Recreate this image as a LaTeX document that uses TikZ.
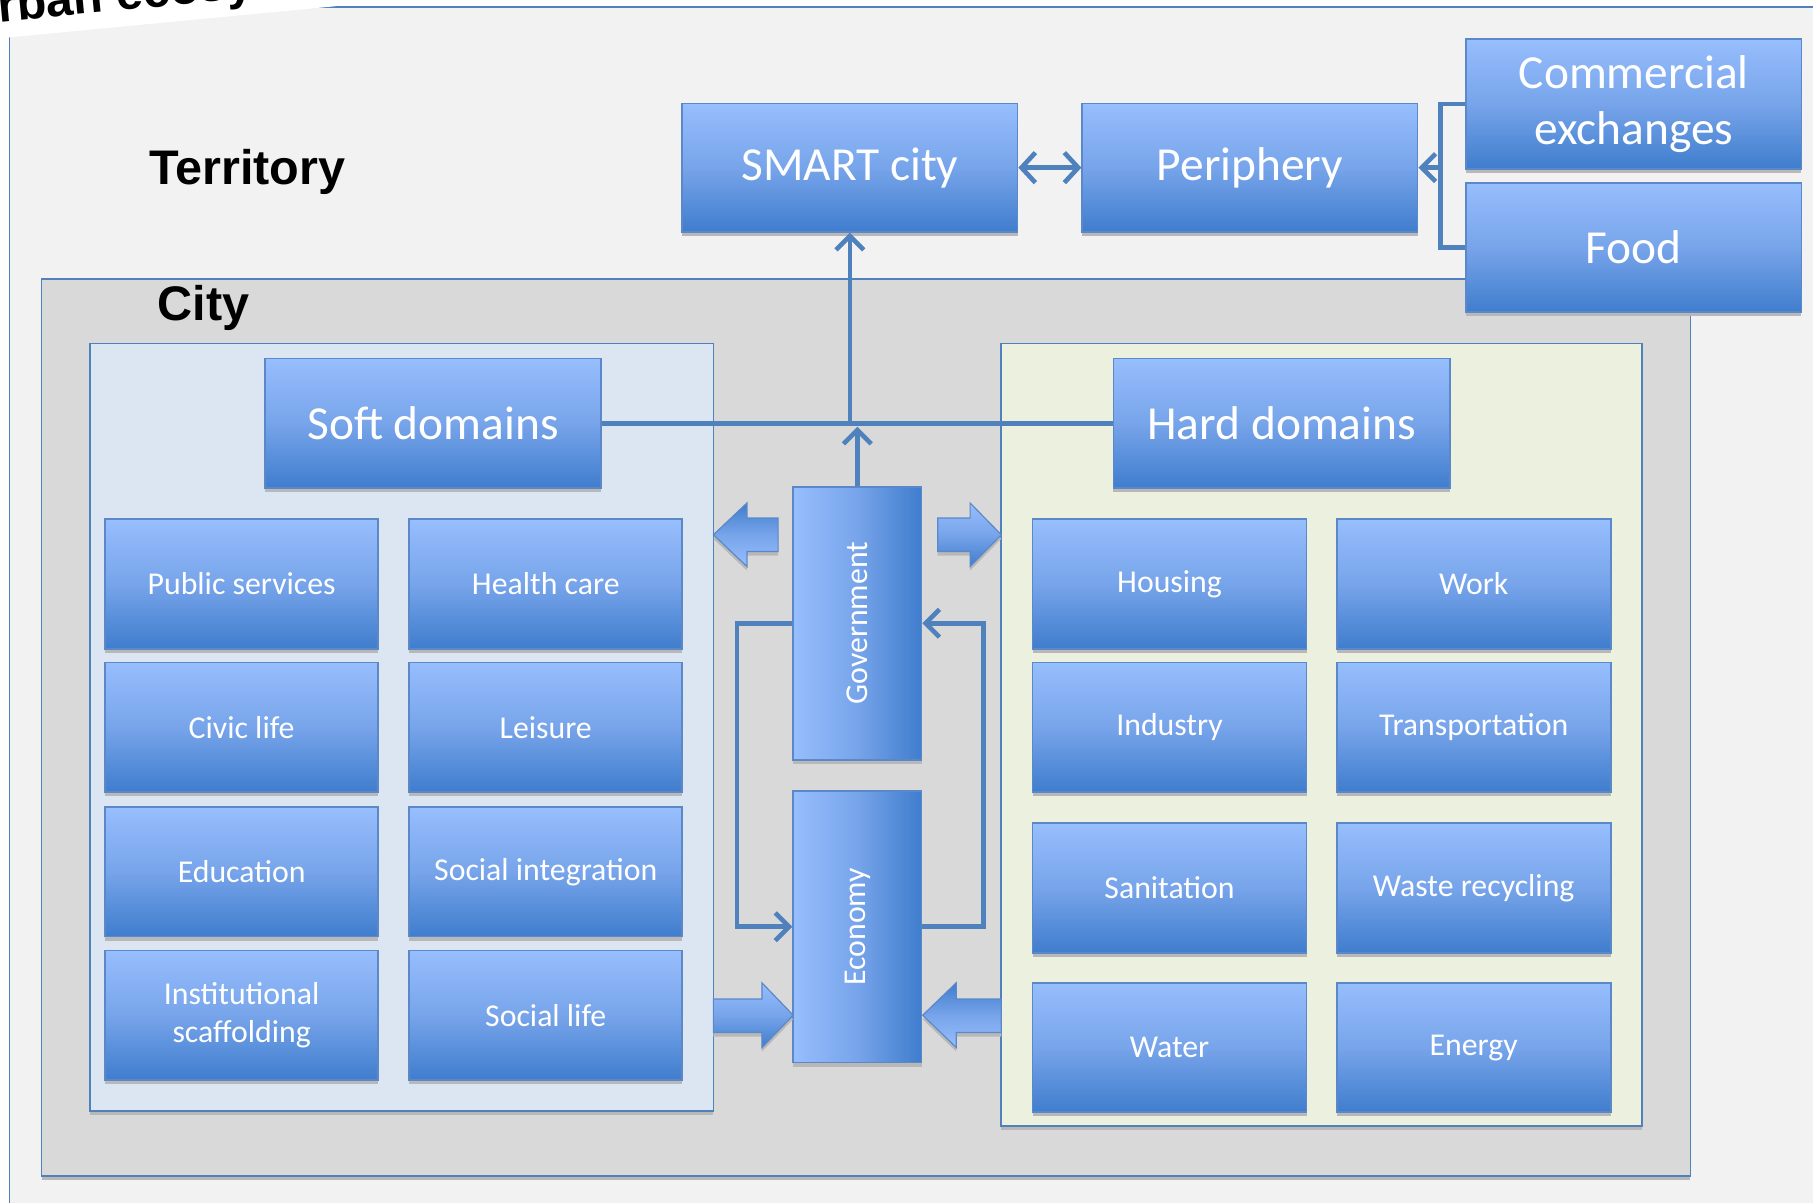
\documentclass[tikz,border=0pt]{standalone}
\usepackage{fontspec}
\usepackage{graphicx}
\setmainfont{Carlito}
\newfontfamily\arialfont{Liberation Sans}
\usetikzlibrary{arrows.meta,shadows}

\definecolor{terrfill}{HTML}{F2F2F2}
\definecolor{cityfill}{HTML}{D9D9D9}
\definecolor{softfill}{HTML}{DCE6F2}
\definecolor{hardfill}{HTML}{EBF0DF}
\definecolor{frameblue}{HTML}{4F81BD}
\definecolor{boxtop}{HTML}{97BEFD}
\definecolor{boxmid}{HTML}{77A4EA}
\definecolor{boxbot}{HTML}{3F7DCD}
\definecolor{boxline}{HTML}{5A88C8}
\definecolor{linkblue}{HTML}{4F81BD}

\tikzset{
  boxshadow/.style={general shadow={fill=black!28, shadow yshift=-3.5pt}},
  bluebox/.style={draw=boxline, line width=1.5pt, top color=boxtop, bottom color=boxbot, middle color=boxmid,
    text=white, align=center, inner sep=0pt, boxshadow},
  bigbox/.style={bluebox, minimum width=290pt, minimum height=111pt, font=\fontsize{41}{49}\selectfont},
  smallbox/.style={bluebox, minimum width=236pt, minimum height=112pt, font=\fontsize{27.5}{33}\selectfont},
  vbox/.style={draw=boxline, line width=1.5pt, left color=boxtop, right color=boxbot, middle color=boxmid,
    text=white, inner sep=0pt, minimum width=111pt, minimum height=236pt,
    font=\fontsize{27.5}{33}\selectfont, boxshadow},
  container/.style={draw=frameblue, line width=1.5pt, inner sep=0pt, boxshadow},
  link/.style={draw=linkblue, line width=4pt},
  linkarrow/.style={link, -{Straight Barb[length=12pt,width=24pt]}},
  blockarrow/.style={draw=boxline, line width=1pt, boxshadow},
  titletext/.style={font=\arialfont\bfseries\fontsize{42}{50}\selectfont, text=black, inner sep=0pt}
}

\begin{document}
\begin{tikzpicture}[x=1pt,y=-1pt]
\useasboundingbox (0,0) rectangle (1568,1040);
\clip (0,0) rectangle (1568,1040);
\fill[white] (0,0) rectangle (1568,1040);

% territory frame
\path[fill=terrfill, draw=frameblue, line width=1.2pt] (8,6) rectangle (1620,1090);

% rotated title (cut off)
\fill[white] (-20,35) -- (290,5.4) -- (290,-30) -- (-20,-30) -- cycle;
\node[titletext, rotate=5.45, anchor=base west] (ecotitle) at (-31,22) {Urban ecosystem};

\node[titletext, anchor=base west] (territory) at (129,160) {Territory};

% city
\node[container, fill=cityfill, minimum width=1426pt, minimum height=776pt] (city) at (749,629) {};
\node[titletext, anchor=base west] (citylbl) at (136,277) {City};

% soft / hard containers
\node[container, fill=softfill, minimum width=539pt, minimum height=664pt] (softc) at (347.5,629) {};
\node[container, fill=hardfill, minimum width=554pt, minimum height=677pt] (hardc) at (1143,635.5) {};

% top boxes
\node[bigbox] (smart) at (735,145) {SMART city};
\node[bigbox] (periph) at (1081,145) {Periphery};
\node[bigbox, minimum height=112pt] (comm) at (1413,90) {Commercial\\exchanges};
\node[bigbox, minimum height=112pt] (food) at (1413,214) {Food};

% domain boxes
\node[bigbox, minimum width=291pt, minimum height=112pt] (soft) at (374.5,366) {Soft domains};
\node[bigbox, minimum width=291pt, minimum height=112pt] (hard) at (1108.5,366) {Hard domains};

% soft grid
\node[smallbox] (pub) at (209,505) {Public services};
\node[smallbox] (health) at (472,505) {Health care};
\node[smallbox] (civic) at (209,629) {Civic life};
\node[smallbox] (leis) at (472,629) {Leisure};
\node[smallbox] (edu) at (209,754) {Education};
\node[smallbox] (socint) at (472,754) {Social integration};
\node[smallbox] (inst) at (209,878) {Institutional\\scaffolding};
\node[smallbox] (soclife) at (472,878) {Social life};

% hard grid
\node[smallbox, minimum width=237pt] (housing) at (1011.5,505) {Housing};
\node[smallbox, minimum width=237pt] (work) at (1274.5,505) {Work};
\node[smallbox, minimum width=237pt] (industry) at (1011.5,629) {Industry};
\node[smallbox, minimum width=237pt] (transp) at (1274.5,629) {Transportation};
\node[smallbox, minimum width=237pt] (sanit) at (1011.5,768) {Sanitation};
\node[smallbox, minimum width=237pt] (waste) at (1274.5,768) {Waste recycling};
\node[smallbox, minimum width=237pt] (water) at (1011.5,906) {Water};
\node[smallbox, minimum width=237pt] (energy) at (1274.5,906) {Energy};

% government / economy
\node[vbox] (gov) at (741.5,539) {\rotatebox{90}{Government}};
\node[vbox, minimum height=235pt] (eco) at (741.5,801.5) {\rotatebox{90}{Economy}};

% block arrows
\path[blockarrow, top color=boxbot, bottom color=boxtop, middle color=boxmid]
  (617,462.5) -- (646,435) -- (646,448) -- (673,448) -- (673,477) -- (646,477) -- (646,490) -- cycle;
\path[blockarrow, top color=boxtop, bottom color=boxbot, middle color=boxmid]
  (866,462.5) -- (839,435) -- (839,448) -- (811,448) -- (811,477) -- (839,477) -- (839,490) -- cycle;
\path[blockarrow, top color=boxtop, bottom color=boxbot, middle color=boxmid]
  (686,878) -- (659,850) -- (659,864) -- (617,864) -- (617,893) -- (659,893) -- (659,906) -- cycle;
\path[blockarrow, top color=boxbot, bottom color=boxtop, middle color=boxmid]
  (798,878) -- (827,850) -- (827,864) -- (866,864) -- (866,893) -- (827,893) -- (827,906) -- cycle;

% connectors
\draw[link, {Straight Barb[length=12pt,width=26pt]}-{Straight Barb[length=12pt,width=26pt]}]
  (smart.east) -- (periph.west);
\coordinate (brk) at (1246,145);
\draw[link] (comm.west) -| (brk) |- (food.west);
\draw[linkarrow] (brk) -- (periph.east);

\draw[link] (soft.east) -- (hard.west);
\coordinate (junc) at (735,366);
\draw[linkarrow] (junc) -- (smart.south);
\coordinate (govtop) at (741.5,369);
\draw[linkarrow] (gov.north) -- (govtop);

\draw[linkarrow] (gov.west) -- ++(-48,0) |- (eco.west);
\draw[linkarrow] (eco.east) -- ++(53,0) |- (gov.east);
\end{tikzpicture}
\end{document}
